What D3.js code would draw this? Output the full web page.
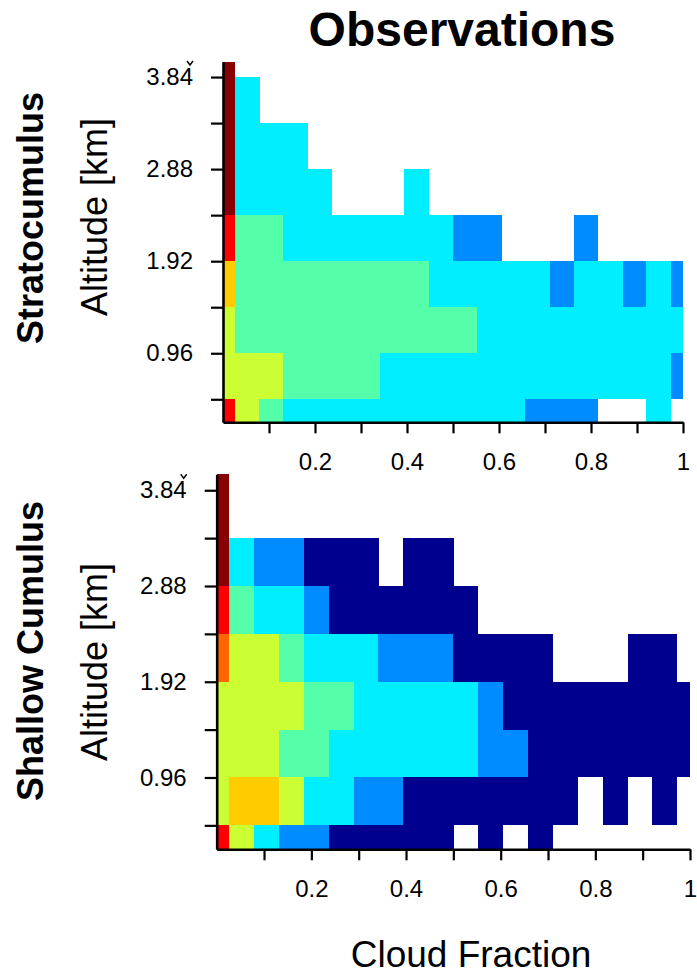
<!DOCTYPE html>
<html>
<head>
<meta charset="utf-8">
<script src="https://cdn.jsdelivr.net/npm/d3@7/dist/d3.min.js"></script>
<style>
body { margin: 0; background: #fff; }
svg { display: block; font-family: "Liberation Sans", Arial, sans-serif; }
</style>
</head>
<body>
<script>
const _ = null;

// bin centres
const cloudFraction = [0, 0.053, 0.105, 0.158, 0.211, 0.263, 0.316, 0.368, 0.421, 0.474,
                       0.526, 0.579, 0.632, 0.684, 0.737, 0.789, 0.842, 0.895, 0.947, 1];
const altitude = [0.24, 0.72, 1.20, 1.68, 2.16, 2.64, 3.12, 3.60, 4.08];

// frequency of occurrence (%), rows go from lowest altitude up
const stratocumulus = [
  [30, 12, 7, 3, 3, 3, 3, 3, 3, 3, 3, 3, 3, 1.5, 1.5, 1.5, _, _, 3, _],
  [12, 12, 12, 7, 7, 7, 7, 3, 3, 3, 3, 3, 3, 3, 3, 3, 3, 3, 3, 1.5],
  [12, 7, 7, 7, 7, 7, 7, 7, 7, 7, 7, 3, 3, 3, 3, 3, 3, 3, 3, 3],
  [17, 7, 7, 7, 7, 7, 7, 7, 7, 3, 3, 3, 3, 3, 1.5, 3, 3, 1.5, 3, 1.5],
  [30, 7, 7, 3, 3, 3, 3, 3, 3, 3, 1.5, 1.5, _, _, _, 1.5, _, _, _, _],
  [45, 3, 3, 3, 3, _, _, _, 3, _, _, _, _, _, _, _, _, _, _, _],
  [45, 3, 3, 3, _, _, _, _, _, _, _, _, _, _, _, _, _, _, _, _],
  [45, 3, _, _, _, _, _, _, _, _, _, _, _, _, _, _, _, _, _, _],
  [45, _, _, _, _, _, _, _, _, _, _, _, _, _, _, _, _, _, _, _]
];

const shallowCumulus = [
  [30, 12, 3, 1.5, 1.5, 0.5, 0.5, 0.5, 0.5, 0.5, _, 0.5, _, 0.5, _, _, _, _, _, _],
  [12, 17, 17, 12, 3, 3, 1.5, 1.5, 0.5, 0.5, 0.5, 0.5, 0.5, 0.5, 0.5, _, 0.5, _, 0.5, _],
  [12, 12, 12, 7, 7, 3, 3, 3, 3, 3, 3, 1.5, 1.5, 0.5, 0.5, 0.5, 0.5, 0.5, 0.5, 0.5],
  [12, 12, 12, 12, 7, 7, 3, 3, 3, 3, 3, 1.5, 0.5, 0.5, 0.5, 0.5, 0.5, 0.5, 0.5, 0.5],
  [22, 12, 12, 7, 3, 3, 3, 1.5, 1.5, 1.5, 0.5, 0.5, 0.5, 0.5, _, _, _, 0.5, 0.5, _],
  [30, 7, 3, 3, 1.5, 0.5, 0.5, 0.5, 0.5, 0.5, 0.5, _, _, _, _, _, _, _, _, _],
  [45, 3, 1.5, 1.5, 0.5, 0.5, 0.5, _, 0.5, 0.5, _, _, _, _, _, _, _, _, _, _],
  [45, _, _, _, _, _, _, _, _, _, _, _, _, _, _, _, _, _, _, _],
  [45, _, _, _, _, _, _, _, _, _, _, _, _, _, _, _, _, _, _, _]
];

const levels = [1, 2, 5, 10, 15, 20, 25, 35];
const levelColors = ["#00008f", "#008cff", "#00eeff", "#55ffaa", "#ccff33",
                     "#ffcc00", "#ff6600", "#ff0000", "#880000"];

const xTicks = [0.1, 0.2, 0.3, 0.4, 0.5, 0.6, 0.7, 0.8, 0.9, 1];
const xTickLabels = ["0.2", "0.4", "0.6", "0.8", "1"];
const yTicks = [0.48, 0.96, 1.44, 1.92, 2.40, 2.88, 3.36, 3.84];
const yTickLabels = ["0.96", "1.92", "2.88", "3.84"];

const color = d3.scaleThreshold().domain(levels).range(levelColors);

const svg = d3.select("body").append("svg")
    .attr("width", 697)
    .attr("height", 978);

svg.append("text")
    .attr("x", 462).attr("y", 46)
    .attr("text-anchor", "middle")
    .attr("font-size", 48).attr("font-weight", "bold")
    .text("Observations");

function panel(grid, name, box) {
  const x = d3.scaleLinear().domain([0, 1]).range([box.left, box.right]);
  const y = d3.scaleLinear().domain([0.24, 4.0]).range([box.bottom, box.top]);
  const dx = (cloudFraction[1] - cloudFraction[0]) / 2;
  const dy = (altitude[1] - altitude[0]) / 2;

  const cells = [];
  grid.forEach((row, i) => row.forEach((v, j) => {
    if (v != null) cells.push({ cf: cloudFraction[j], alt: altitude[i], v: v });
  }));

  svg.append("g").selectAll("rect").data(cells)
    .enter().append("rect")
      .attr("x", d => x(Math.max(0, d.cf - dx)))
      .attr("width", d => x(Math.min(1, d.cf + dx)) - x(Math.max(0, d.cf - dx)))
      .attr("y", d => y(Math.min(4.0, d.alt + dy)))
      .attr("height", d => y(Math.max(0.24, d.alt - dy)) - y(Math.min(4.0, d.alt + dy)))
      .attr("fill", d => color(d.v))
      .attr("shape-rendering", "crispEdges");

  const xAxis = svg.append("g")
      .attr("transform", `translate(0,${box.bottom})`)
      .call(d3.axisBottom(x).tickValues(xTicks).tickSize(11).tickSizeOuter(0).tickPadding(20)
        .tickFormat(d => xTickLabels.find(s => +s === d) || ""));
  const yAxis = svg.append("g")
      .attr("transform", `translate(${box.left},0)`)
      .call(d3.axisLeft(y).tickValues(yTicks).tickSize(12).tickSizeOuter(0).tickPadding(18)
        .tickFormat(d => yTickLabels.find(s => +s === d) || ""));

  [xAxis, yAxis].forEach(a => {
    a.select(".domain").attr("stroke-width", 2.6);
    a.selectAll(".tick line").attr("stroke-width", 2.2);
    a.selectAll("text").attr("font-size", 24).attr("font-family", "Liberation Sans, Arial, sans-serif");
  });

  // small stray mark sitting over the top label
  const cx = box.left - 33, cy = y(3.84) - 16;
  svg.append("path")
      .attr("d", `M${cx - 3},${cy} L${cx},${cy + 4} L${cx + 3},${cy}`)
      .attr("fill", "none")
      .attr("stroke", "#000")
      .attr("stroke-width", 1.4);

  svg.append("text")
      .attr("transform", `translate(${box.nameX},${box.midY}) rotate(-90)`)
      .attr("text-anchor", "middle")
      .attr("font-size", 36).attr("font-weight", "bold")
      .text(name);
  svg.append("text")
      .attr("transform", `translate(${box.nameX + 64},${box.labelY}) rotate(-90)`)
      .attr("text-anchor", "middle")
      .attr("font-size", 36)
      .text("Altitude [km]");
}

panel(stratocumulus, "Stratocumulus",
  { left: 223, right: 683, top: 61.7, bottom: 422.3, nameX: 43, midY: 218, labelY: 217 });
panel(shallowCumulus, "Shallow Cumulus",
  { left: 216.7, right: 690, top: 474.3, bottom: 849.3, nameX: 43, midY: 651, labelY: 662 });

svg.append("text")
    .attr("x", 471).attr("y", 967)
    .attr("text-anchor", "middle")
    .attr("font-size", 37)
    .text("Cloud Fraction");
</script>
</body>
</html>
